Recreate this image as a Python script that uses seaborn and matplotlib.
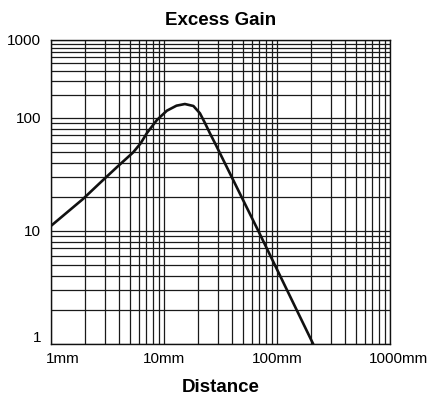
import numpy as np
import pandas as pd
import seaborn as sns
import matplotlib.pyplot as plt
from matplotlib.transforms import ScaledTranslation

# curve (distance in mm, excess gain)
distance_mm = [1, 1.92, 2.71, 3.84, 5.32, 6.2, 7.07, 8.66, 10.6, 12.9, 15.3,
               18.2, 20.8, 23.1, 25.5, 28.3, 68.4, 209]
excess_gain = [11.1, 19.2, 26.6, 36.8, 49.5, 59.5, 73.7, 96, 124, 143.8, 151,
               142.5, 114.9, 89.8, 73.2, 59.7, 10.0, 1.0]

x_ticks = [1, 10, 100, 1000]
x_tick_labels = ['1mm', '10mm', '100mm', '1000mm']
y_ticks = [1, 10, 100, 1000]
y_tick_labels = ['1', '10', '100', '1000']

df = pd.DataFrame({'distance': distance_mm, 'gain': excess_gain})

sns.set_style('white')
plt.rcParams['font.family'] = ['Liberation Sans', 'DejaVu Sans']
plt.rcParams['text.color'] = 'black'
plt.rcParams['axes.labelcolor'] = 'black'
plt.rcParams['xtick.color'] = 'black'
plt.rcParams['ytick.color'] = 'black'

fig = plt.figure(figsize=(4.3, 4.01), dpi=100)
ax = fig.add_axes([51 / 430, 1 - 344 / 401, 339 / 430, 304 / 401])

sns.lineplot(data=df, x='distance', y='gain', ax=ax, color='#111111',
             linewidth=1.9, zorder=5)

# the chart's top decade is drawn squeezed compared with the others
SQUEEZE = 0.69


def fwd(y):
    l = np.log10(np.clip(y, 1e-12, None))
    return np.where(l <= 2, l, 2 + (l - 2) * SQUEEZE)


def inv(v):
    return np.where(v <= 2, 10.0 ** v, 10.0 ** (2 + (v - 2) / SQUEEZE))


ax.set_xscale('log')
ax.set_yscale('function', functions=(fwd, inv))
ax.set_xlim(1, 1000)
ax.set_ylim(1, 1000)

ax.set_xticks(x_ticks)
ax.set_xticklabels(x_tick_labels)
ax.set_yticks(y_ticks)
ax.set_yticklabels(y_tick_labels)
minor = [m * 10 ** k for k in range(3) for m in range(2, 10)]
ax.set_yticks(minor, minor=True)
ax.set_xticks(minor, minor=True)

ax.grid(True, which='both', color='#1a1a1a', linewidth=0.9)
for s in ax.spines.values():
    s.set_visible(True)
    s.set_color('#111111')
    s.set_linewidth(1.0)

ax.tick_params(axis='x', which='major', direction='out', length=3,
               width=1, color='#111111', labelsize=11, pad=3)
ax.tick_params(axis='y', which='major', length=0, labelsize=11, pad=7)
ax.tick_params(which='minor', length=0)

# nudge end labels like the reference
xl = ax.get_xticklabels()
xl[0].set_transform(xl[0].get_transform() + ScaledTranslation(0.12, 0, fig.dpi_scale_trans))
xl[-1].set_transform(xl[-1].get_transform() + ScaledTranslation(0.08, 0, fig.dpi_scale_trans))
yl = ax.get_yticklabels()
yl[0].set_transform(yl[0].get_transform() + ScaledTranslation(0, 0.07, fig.dpi_scale_trans))

ax.set_title('Excess Gain', fontsize=13.5, fontweight='bold', pad=11)
ax.set_xlabel('Distance', fontsize=13.5, fontweight='bold', labelpad=9)
ax.set_ylabel('')

plt.savefig('out.png', dpi=100)
